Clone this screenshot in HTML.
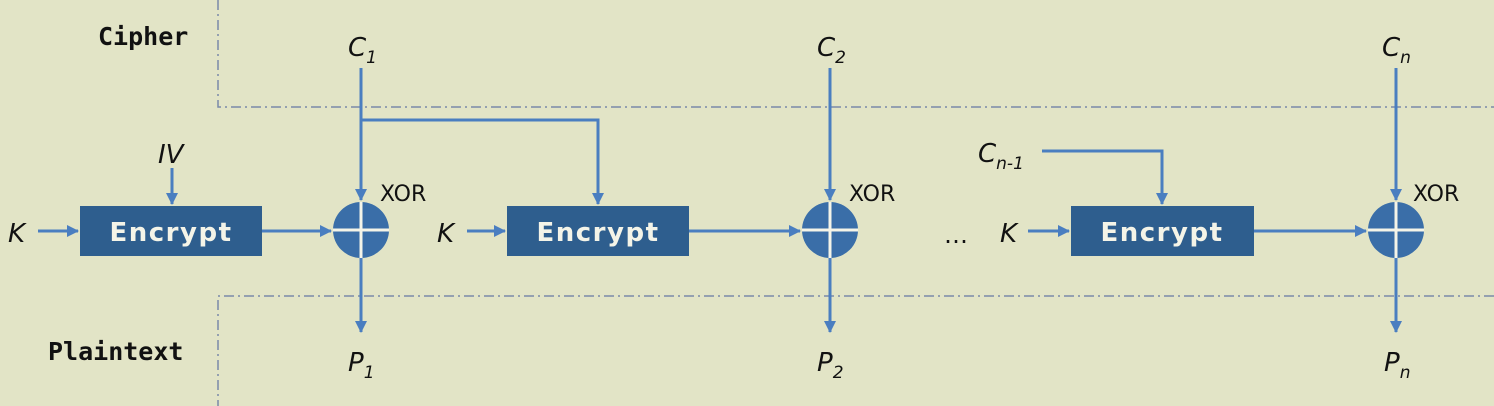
<!DOCTYPE html>
<html><head><meta charset="utf-8"><style>
html,body{margin:0;padding:0;background:#e2e4c6;}
svg{display:block}
.it{font-family:"DejaVu Sans","Liberation Sans",sans-serif;font-style:italic;font-size:26px;fill:#111}
.sub{font-size:17px}
.lab{font-family:"DejaVu Sans Mono","Liberation Mono",monospace;font-size:25px;fill:#111;font-weight:bold}
.enc{font-family:"DejaVu Sans","Liberation Sans",sans-serif;font-size:26px;fill:#f4f4e8;letter-spacing:1.5px;font-weight:bold}
.xor{font-family:"DejaVu Sans","Liberation Sans",sans-serif;font-size:22px;fill:#111}
</style></head><body>
<svg width="1494" height="406" viewBox="0 0 1494 406" xmlns="http://www.w3.org/2000/svg">
<defs><marker id="a" markerWidth="12" markerHeight="12" refX="11" refY="6" orient="auto" markerUnits="userSpaceOnUse"><path d="M0,0 L12,6 L0,12 z" fill="#4a7ec0"/></marker></defs>
<rect x="0" y="0" width="1494" height="406" fill="#e2e4c6"/>
<g stroke="#7a8aa8" stroke-width="1.5" fill="none" stroke-dasharray="10,4,2,4">
<path d="M218,0 V107 H1494"/>
<path d="M1494,296 H218 V406"/>
</g>
<text class="lab" x="98" y="45">Cipher</text>
<text class="lab" x="48" y="360">Plaintext</text>
<g fill="#2e5e8e">
<rect x="80" y="206" width="182" height="50"/>
<rect x="507" y="206" width="182" height="50"/>
<rect x="1071" y="206" width="183" height="50"/>
</g>
<text class="enc" x="171" y="241" text-anchor="middle">Encrypt</text>
<text class="enc" x="598" y="241" text-anchor="middle">Encrypt</text>
<text class="enc" x="1162" y="241" text-anchor="middle">Encrypt</text>
<g stroke="#4a7ec0" stroke-width="3" fill="none" marker-end="url(#a)">
<path d="M38,231 H78"/>
<path d="M172,168 V204"/>
<path d="M262,231 H331"/>
<path d="M361,68 V200"/>
<path d="M361,120 H598 V204"/>
<path d="M361,258 V332"/>
<path d="M467,231 H505"/>
<path d="M689,231 H800"/>
<path d="M830,68 V200"/>
<path d="M830,258 V332"/>
<path d="M1028,231 H1069"/>
<path d="M1042,151 H1162 V204"/>
<path d="M1254,231 H1366"/>
<path d="M1396,68 V200"/>
<path d="M1396,258 V332"/>
</g>
<g>
<circle cx="361" cy="230" r="28" fill="#3a6ea8"/>
<path d="M333,230 H389 M361,202 V258" stroke="#f4f4e8" stroke-width="3"/>
<circle cx="830" cy="230" r="28" fill="#3a6ea8"/>
<path d="M802,230 H858 M830,202 V258" stroke="#f4f4e8" stroke-width="3"/>
<circle cx="1396" cy="230" r="28" fill="#3a6ea8"/>
<path d="M1368,230 H1424 M1396,202 V258" stroke="#f4f4e8" stroke-width="3"/>
</g>
<text class="xor" x="380" y="201">XOR</text>
<text class="xor" x="849" y="201">XOR</text>
<text class="xor" x="1413" y="201">XOR</text>
<text class="it" x="8" y="242">K</text>
<text class="it" x="437" y="242">K</text>
<text class="it" x="1000" y="242">K</text>
<text class="it" x="158" y="163">IV</text>
<text class="it" x="348" y="56">C<tspan class="sub" dy="7">1</tspan></text>
<text class="it" x="817" y="56">C<tspan class="sub" dy="7">2</tspan></text>
<text class="it" x="1382" y="56">C<tspan class="sub" dy="7">n</tspan></text>
<text class="it" x="978" y="162">C<tspan class="sub" dy="7">n-1</tspan></text>
<text class="it" x="348" y="371">P<tspan class="sub" dy="7">1</tspan></text>
<text class="it" x="817" y="371">P<tspan class="sub" dy="7">2</tspan></text>
<text class="it" x="1384" y="371">P<tspan class="sub" dy="7">n</tspan></text>
<text x="944" y="243" font-family="DejaVu Sans,sans-serif" font-size="24" fill="#111">…</text>
</svg>
</body></html>
